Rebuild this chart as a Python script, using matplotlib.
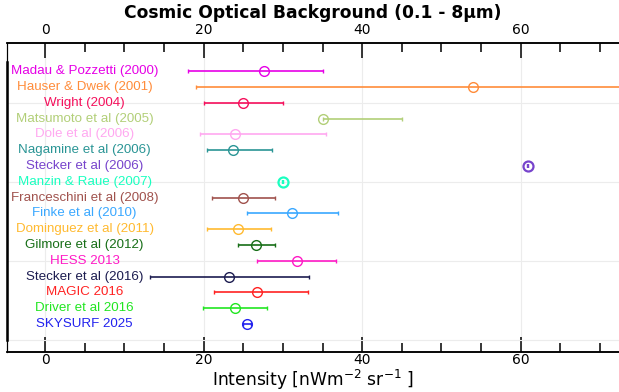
import numpy as np
import matplotlib
matplotlib.use("Agg")
from matplotlib import pyplot as plt
from matplotlib.ticker import MultipleLocator

# COB measurements (nW m^-2 sr^-1): central value, lower and upper error
names = ["Madau & Pozzetti (2000)", "Hauser & Dwek (2001)", "Wright (2004)",
         "Matsumoto et al (2005)", "Dole et al (2006)", "Nagamine et al (2006)",
         "Stecker et al (2006)", "Manzin & Raue (2007)", "Franceschini et al (2008)",
         "Finke et al (2010)", "Dominguez et al (2011)", "Gilmore et al (2012)",
         "HESS 2013", "Stecker et al (2016)", "MAGIC 2016", "Driver et al 2016",
         "SKYSURF 2025"]
values = [27.6, 54.0, 25.0, 35.0, 24.0, 23.65, 60.9, 30.0, 25.0,
          31.2, 24.4, 26.6, 31.8, 23.2, 26.7, 24.0, 25.5]
err_lo = [9.6, 35.0, 5.0, 0.0, 4.5, 3.25, 0.0, 0.0, 4.0,
          5.7, 4.0, 2.3, 5.1, 9.9, 5.4, 4.1, 0.5]
err_hi = [7.4, 35.0, 5.0, 10.0, 11.5, 4.95, 0.0, 0.0, 4.0,
          5.8, 4.1, 2.4, 4.9, 10.1, 6.5, 4.0, 0.5]
colors = ["#e600e6", "#ff8c3a", "#f5105c", "#b2cf78", "#ffa8f0", "#2a9595",
          "#7744cc", "#1affc0", "#a0524d", "#3aa8ff", "#ffba30", "#176e17",
          "#ff1ac6", "#1c1c50", "#ff2222", "#21e621", "#2222ee"]

n = len(names)
ypos = np.arange(n, 0, -1)
xmin, xmax = -4.8, 72.5

fig = plt.figure(figsize=(6.19, 3.92), dpi=100)
ax = fig.add_axes([0.0113, 0.1028, 0.99, 0.787])

for y, v, lo, hi, c, name in zip(ypos, values, err_lo, err_hi, colors, names):
    bare = lo == 0 and hi == 0
    ax.errorbar(v, y, xerr=[[lo], [hi]], fmt="o", color=c, mfc="none",
                mec=c, ms=7.2 if bare else 7, mew=1.6 if bare else 1.0,
                elinewidth=1.2, capsize=1.5, capthick=1.2)
    ax.text(5, y, name, color=c, ha="center", va="center",
            fontsize=9.6, family="Liberation Sans")

ax.set_xlim(xmin, xmax)
ax.set_ylim(-0.75, 18.77)
ax.xaxis.set_major_locator(MultipleLocator(20))
ax.xaxis.set_minor_locator(MultipleLocator(5))
ax.yaxis.set_major_locator(MultipleLocator(5))
ax.set_yticklabels([])
ax.tick_params(axis="y", length=0)
ax.grid(True, color="#ececec", lw=0.8)
ax.set_axisbelow(True)

ax.tick_params(axis="x", which="both", direction="in", labelsize=10,
               width=1.1, pad=1)
ax.tick_params(axis="x", which="major", length=10.8)
ax.tick_params(axis="x", which="minor", length=6.5)

# matching scale along the top edge
top = ax.twiny()
top.set_xlim(xmin, xmax)
top.xaxis.set_major_locator(MultipleLocator(20))
top.xaxis.set_minor_locator(MultipleLocator(5))
top.tick_params(axis="x", which="both", direction="in", labelsize=10,
                width=1.1, pad=4.5)
top.tick_params(axis="x", which="major", length=10.8)
top.tick_params(axis="x", which="minor", length=6.5)

for a in (ax, top):
    a.spines["right"].set_visible(False)
    a.spines["left"].set_linewidth(0.8)
    a.spines["top"].set_linewidth(1.1)
    a.spines["bottom"].set_linewidth(1.1)
ax.plot([xmin, xmin], [0, 17.6], color="black", lw=1.8, clip_on=False)

ax.set_xlabel("Intensity [nWm$^{-2}$ sr$^{-1}$ ]", fontsize=12.3, labelpad=0.5)
fig.suptitle("Cosmic Optical Background (0.1 - 8\u03bcm)", fontsize=12.3,
             fontweight="bold", x=0.506, y=0.99)

fig.savefig("out.png", dpi=100)
